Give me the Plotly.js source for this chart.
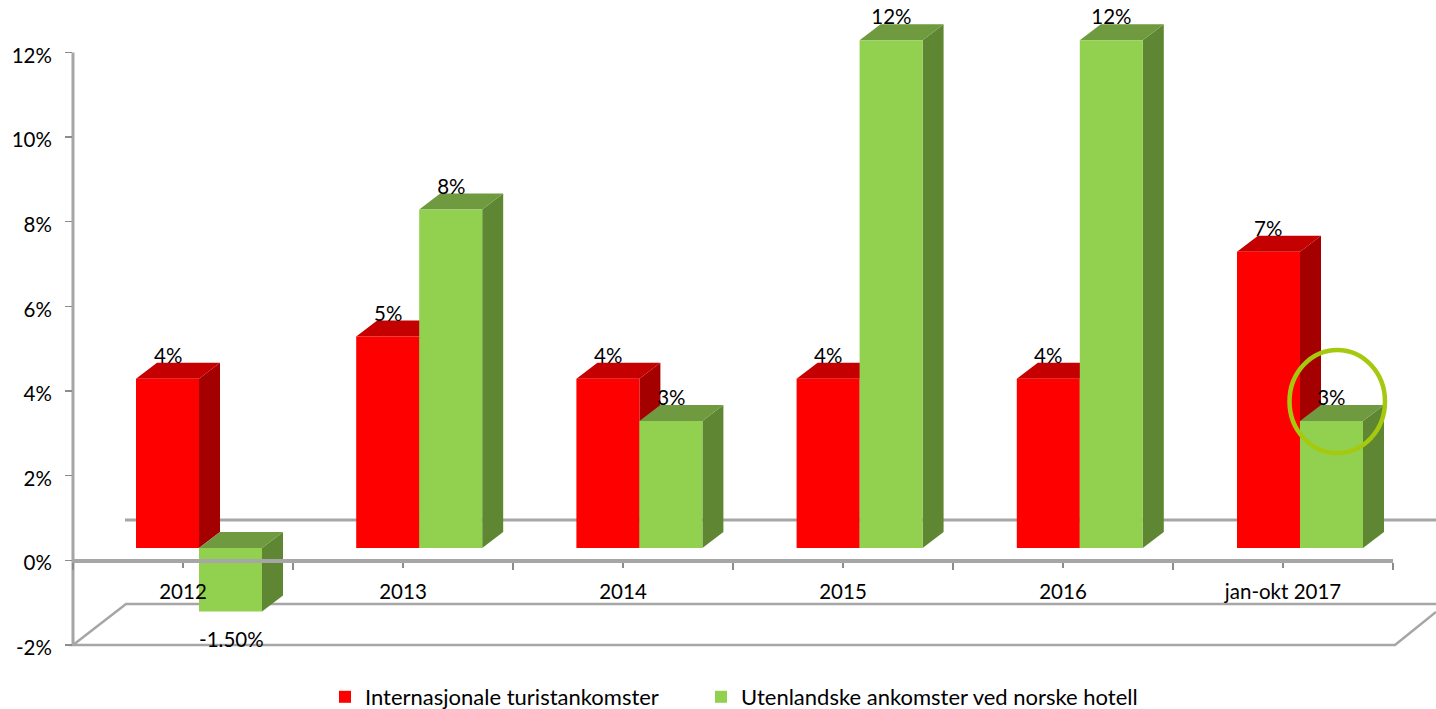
<!DOCTYPE html>
<html>
<head>
<meta charset="utf-8">
<script src="https://cdn.plot.ly/plotly-3.0.1.min.js"></script>
<style>html,body{margin:0;padding:0;background:#fff}#chart{width:1436px;height:709px}</style>
</head>
<body>
<div id="chart"></div>
<script>
// ---- data ----
var categories = ['2012', '2013', '2014', '2015', '2016', 'jan-okt 2017'];
var seriesNames = ['Internasjonale turistankomster', 'Utenlandske ankomster ved norske hotell'];
var arrivals = [4, 5, 4, 4, 4, 7];
var hotels = [-1.5, 8, 3, 12, 12, 3];
var arrivalLabels = ['4%', '5%', '4%', '4%', '4%', '7%'];
var hotelLabels = ['-1.50%', '8%', '3%', '12%', '12%', '3%'];
var yTicks = [-2, 0, 2, 4, 6, 8, 10, 12];
var yTickLabels = ['-2%', '0%', '2%', '4%', '6%', '8%', '10%', '12%'];

// ---- geometry of the picture ----
var W = 1436, H = 709;
var BAND = 220.2, UNIT = 42.32;          // px per category, px per percentage point
var PAIR0 = 199, BASE = 548;             // px of first pair centre and of bars' zero line
var DX = 21 / BAND, DY = 16 / UNIT;      // bar depth in axis units
var BARW = 63 / BAND;
var AX_L = 73, AX_R = 1393, AX_TOP = 52.5, AX_BOT = 645, AX_ZERO = 560.3;
var FONT = 'Lato, sans-serif';

var idx = categories.map(function (_, i) { return i; });

function faces(values, xOffset) {
  var side = {x: [], y: []}, top = {x: [], y: []};
  values.forEach(function (v, i) {
    var hi = Math.max(v, 0), lo = Math.min(v, 0);
    var x0 = i + xOffset, x1 = x0 + BARW;
    side.x.push(x1, x1, x1 + DX, x1 + DX, x1, null);
    side.y.push(lo, hi, hi + DY, lo + DY, lo, null);
    top.x.push(x0, x1, x1 + DX, x0 + DX, x0, null);
    top.y.push(hi, hi, hi + DY, hi + DY, hi, null);
  });
  return {side: side, top: top};
}
function face(f, color) {
  return {type: 'scatter', mode: 'lines', x: f.x, y: f.y, fill: 'toself', fillcolor: color,
          line: {width: 0, color: color}, showlegend: false, hoverinfo: 'skip', xaxis: 'x', yaxis: 'y'};
}
var redF = faces(arrivals, -BARW), greenF = faces(hotels, 0);

function labelX(offset) { return idx.map(function (i) { return i + offset; }); }
var LIFT = (AX_ZERO - (BASE - 21)) / UNIT;
var DROP = (AX_ZERO - (BASE + 30)) / UNIT;
function labelY(values) { return values.map(function (v) { return v >= 0 ? v + LIFT : v + DROP; }); }
function labels(values, text, offset) {
  return {type: 'scatter', mode: 'text', x: labelX(offset), y: labelY(values), text: text,
          textposition: 'middle center', textfont: {family: FONT, size: 20.5, color: '#000'},
          cliponaxis: false, showlegend: false, hoverinfo: 'skip', xaxis: 'x3', yaxis: 'y3'};
}

var traces = [
  face(redF.side, '#a50000'), face(redF.top, '#c40000'),
  face(greenF.side, '#5f8733'), face(greenF.top, '#6f9a3f'),
  {type: 'bar', name: seriesNames[0], x: idx, y: arrivals, marker: {color: '#ff0000'}, xaxis: 'x2', yaxis: 'y2', hoverinfo: 'skip', legend: 'legend'},
  {type: 'bar', name: seriesNames[1], x: idx, y: hotels, marker: {color: '#92d050'}, xaxis: 'x2', yaxis: 'y2', hoverinfo: 'skip', legend: 'legend2'},
  labels(arrivals, arrivalLabels, 0.433),
  labels(hotels, hotelLabels, 0.72)
];

function px(x) { return x / W; }
function py(y) { return (H - y) / H; }
function paperPath(points) {
  return 'M' + points.map(function (p) { return px(p[0]) + ',' + py(p[1]); }).join('L');
}
var GREY = '#a6a6a6';
function wall(points, width, layer) {
  return {type: 'path', xref: 'paper', yref: 'paper', layer: layer || 'below', path: paperPath(points),
          line: {color: GREY, width: width}};
}
function legendAt(x) {
  return {orientation: 'h', xref: 'container', yref: 'container', x: x / W, y: py(676),
          xanchor: 'left', yanchor: 'top', font: {family: FONT, size: 22, color: '#000'},
          bgcolor: 'rgba(0,0,0,0)'};
}

var xRange = [-PAIR0 / BAND, (W - PAIR0) / BAND];
var yRange = [(BASE - H) / UNIT, BASE / UNIT];

var layout = {
  width: W, height: H,
  margin: {l: 0, r: 0, t: 0, b: 0, pad: 0, autoexpand: false},
  paper_bgcolor: '#fff', plot_bgcolor: 'rgba(0,0,0,0)',
  barmode: 'group', bargap: 1 - 2 * BARW, bargroupgap: 0,
  hovermode: false,
  showlegend: true,
  legend: legendAt(325),
  legend2: legendAt(701),
  xaxis: {domain: [0, 1], range: xRange, visible: false, fixedrange: true, anchor: 'y'},
  yaxis: {domain: [0, 1], range: yRange, visible: false, fixedrange: true, anchor: 'x'},
  xaxis2: {domain: [0, 1], range: xRange, visible: false, fixedrange: true, anchor: 'y2'},
  yaxis2: {domain: [0, 1], range: yRange, visible: false, fixedrange: true, anchor: 'x2'},
  xaxis3: {
    domain: [px(AX_L), px(AX_R)], range: [0, categories.length], anchor: 'free', position: py(AX_ZERO),
    side: 'bottom', fixedrange: true, showgrid: false, zeroline: false,
    showline: true, linecolor: GREY, linewidth: 3.5,
    tickmode: 'array', tickvals: idx.map(function (i) { return i + 0.5; }), ticktext: categories,
    ticks: 'outside', ticklen: 5, tickwidth: 1.5, tickcolor: '#8c8c8c',
    ticklabelstandoff: 7, tickfont: {family: FONT, size: 20.5, color: '#000'},
    minor: {tickmode: 'array', tickvals: idx.concat([categories.length]), ticks: 'outside', ticklen: 7, tickwidth: 1.5, tickcolor: '#8c8c8c', showgrid: false}
  },
  yaxis3: {
    domain: [0, 1], range: [(AX_ZERO - H) / UNIT, AX_ZERO / UNIT], anchor: 'x3', side: 'left', fixedrange: true,
    showgrid: false, zeroline: false, showline: false,
    tickmode: 'array', tickvals: yTicks, ticktext: yTickLabels,
    ticks: 'outside', ticklen: 7, tickwidth: 1.5, tickcolor: '#8c8c8c',
    ticklabelstandoff: 9, ticklabelshift: 3, tickfont: {family: FONT, size: 20.5, color: '#000'}
  },
  shapes: [
    wall([[1436, 520], [125, 520]], 3),
    wall([[1436, 604], [126, 604], [AX_L, AX_BOT], [1395, AX_BOT], [1436, 612]], 2.5),
    wall([[AX_L, AX_TOP], [AX_L, AX_BOT]], 3),
    {type: 'circle', xref: 'paper', yref: 'paper', layer: 'above',
     x0: px(1289.5), x1: px(1385), y0: py(453), y1: py(350),
     line: {color: '#a5c90e', width: 4.5}, fillcolor: 'rgba(0,0,0,0)'}
  ]
};

Plotly.newPlot('chart', traces, layout, {displayModeBar: false, staticPlot: true});
</script>
</body>
</html>
